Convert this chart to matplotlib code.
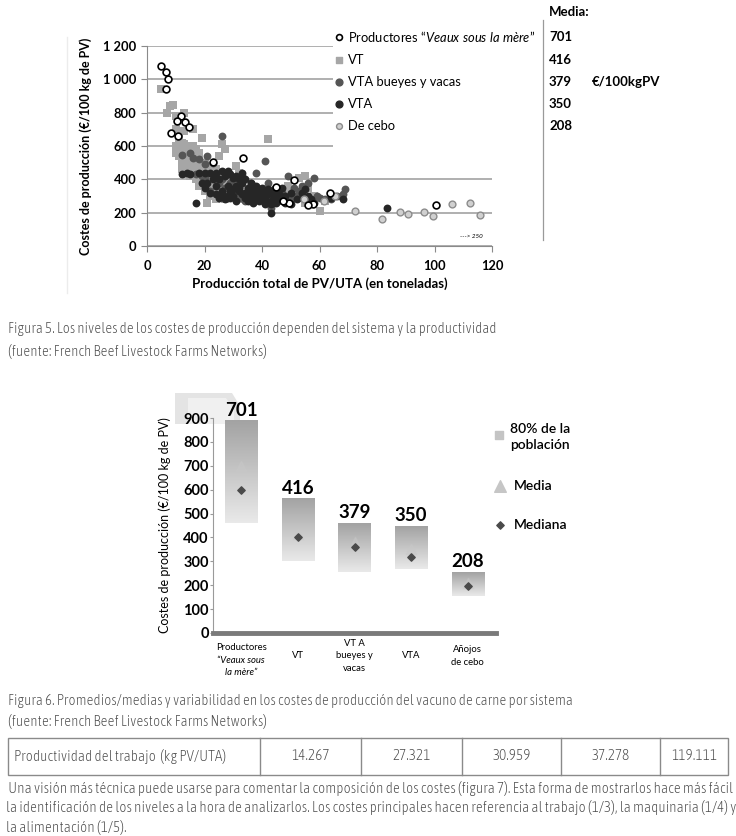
import matplotlib
matplotlib.use("Agg")
import matplotlib.pyplot as plt
import numpy as np
from matplotlib import font_manager
from matplotlib.font_manager import FontProperties
from matplotlib.colors import LinearSegmentedColormap
from matplotlib.patches import Rectangle, Polygon
from matplotlib.ticker import FuncFormatter

# ---------------- data: figure 5 (scatter) ----------------
prod_x = [4.9, 6.5, 7.2, 6.6, 11.8, 10.3, 13.2, 14.7, 8.2, 10.7, 33.3, 23.1,
          51.2, 49.5, 63.7, 57.9, 47.4, 56.1, 45.0, 100.4]
prod_y = [1080, 1042, 1000, 944, 780, 750, 746, 712, 680, 658, 530, 502,
          396, 256, 316, 252, 270, 246, 356, 248]

vt_x = [5, 8, 9, 7, 10, 10, 13, 11, 13, 16, 19, 26, 27, 42, 25, 10, 11, 12, 13, 14,
        15, 16, 12, 13, 14, 15, 16, 17, 18, 11, 12, 19, 20, 21, 22, 23, 24, 25, 26, 21,
        24, 27, 28, 29, 30, 31, 32, 33, 34, 36, 38, 40, 44, 46, 48, 50, 53, 55, 56, 58,
        60, 62, 18, 20, 22, 24, 26, 17, 15, 19, 23, 28, 35, 45, 47, 52, 49, 55,
        10, 11, 12, 13, 14, 15, 16, 17, 18, 19, 20, 21, 22, 23, 24, 25, 26, 27, 28, 29,
        30, 31, 32, 33, 34, 12, 13, 14, 15, 16, 17, 18, 19, 20, 21, 22, 23, 24, 25, 26,
        27, 29, 30, 31, 35, 37, 39, 41, 43, 46, 48, 50, 53, 14, 16, 18, 20, 22, 13]
vt_y = [940, 840, 845, 800, 700, 780, 800, 650, 690, 700, 650, 610, 580, 640, 540, 600, 580, 620, 560, 600,
        580, 540, 500, 470, 520, 480, 450, 400, 360, 540, 460, 430, 400, 420, 380, 360, 340, 320, 300, 260,
        280, 280, 420, 400, 380, 480, 440, 360, 330, 300, 290, 270, 260, 300, 330, 300, 410, 420, 350, 300,
        210, 270, 560, 500, 470, 460, 440, 520, 420, 390, 300, 310, 280, 330, 280, 290, 360, 260,
        560, 600, 590, 610, 570, 550, 600, 580, 500, 480, 460, 450, 420, 430, 400, 380, 370, 360, 340, 320,
        310, 300, 290, 280, 300, 540, 520, 500, 500, 480, 460, 430, 410, 380, 360, 350, 340, 330, 350, 360,
        320, 350, 360, 330, 310, 320, 290, 300, 290, 270, 280, 270, 300, 460, 420, 400, 330, 300, 430]

vtab_x = [12, 15, 18, 20, 21, 23, 26, 28, 30, 33, 36, 38, 41, 42, 44, 47, 49, 51, 54, 56,
          58, 66, 68, 69, 25, 27, 31, 35, 39, 45, 57, 64, 22, 19, 34, 43, 53, 60,
          24, 26, 29, 32, 37, 40, 43, 46, 48, 50, 52, 55, 59, 62, 20, 17, 16, 27, 30, 33]
vtab_y = [545, 560, 520, 490, 540, 500, 660, 440, 400, 420, 380, 440, 510, 380, 340, 320, 420, 350, 360, 380,
          410, 300, 310, 340, 380, 350, 300, 330, 300, 280, 260, 280, 330, 420, 270, 230, 330, 290,
          420, 400, 380, 370, 350, 320, 310, 340, 290, 280, 300, 290, 300, 280, 410, 430, 530, 300, 330, 290]

vta_x = [12, 14, 15, 17, 18, 19, 20, 22, 24, 26, 28, 30, 32, 20, 22, 24, 25, 27, 28, 29,
         30, 31, 32, 33, 34, 35, 36, 37, 38, 39, 40, 41, 42, 43, 43, 44, 45, 46, 48, 50,
         52, 54, 56, 58, 64, 68, 83.6, 37, 35, 40, 26, 23, 21, 47, 33, 29, 31,
         25, 27, 29, 31, 33, 34, 36, 38, 40, 42, 44, 46, 38, 36, 34, 32, 30, 28, 26, 24,
         41, 43, 45, 39, 37, 35, 44, 48, 50, 55, 57]
vta_y = [430, 440, 430, 260, 440, 380, 440, 440, 440, 450, 450, 410, 400, 350, 320, 310, 290, 280, 360, 330,
         340, 360, 330, 310, 290, 350, 320, 300, 280, 340, 300, 280, 310, 270, 200, 300, 320, 280, 260, 250,
         280, 320, 300, 260, 290, 280, 226, 260, 270, 350, 330, 400, 380, 350, 380, 290, 270,
         400, 420, 430, 420, 440, 400, 380, 360, 330, 340, 330, 310, 310, 290, 320, 350, 300, 300, 310, 360,
         250, 250, 260, 270, 340, 300, 290, 300, 320, 340, 280]

cebo_x = [72.2, 81.6, 88.0, 90.9, 96.5, 99.6, 106.0, 112.3, 115.8, 61.6, 54.5, 65.5]
cebo_y = [210, 164, 202, 194, 206, 182, 250, 260, 186, 272, 280, 300]

series_labels = ["VT", "VTA bueyes y vacas", "VTA", "De cebo"]
series_means = [701, 416, 379, 350, 208]

# ---------------- data: figure 6 (80% ranges) ----------------
sys_labels = ["", "VT", "VT A\nbueyes y\nvacas", "VTA", "Añojos\nde cebo"]
p10 = [460, 301, 255, 268, 155]
p90 = [887, 561, 460, 448, 255]
medians = [600, 400, 360, 320, 195]
means = [701, 416, 379, 350, 208]

# ---------------- data: table ----------------
table_head = "Productividad del trabajo  (kg PV/UTA)"
table_vals = ["14.267", "27.321", "30.959", "37.278", "119.111"]

# ---------------- fonts ----------------
cands = []
for f in font_manager.fontManager.ttflist:
    fn = f.fname.lower()
    if ("condensed" in fn or "narrow" in fn) and f.style == "normal" \
            and "bold" not in fn and "italic" not in fn and "semi" not in fn:
        cands.append(f.fname)
cands.sort(key=lambda p: (0 if "light" in p.lower() else 1, 0 if "dejavu" in p.lower() else 1))
cap_fp = FontProperties(fname=cands[0]) if cands else FontProperties(family="DejaVu Sans")

plt.rcParams["font.family"] = ["Lato", "DejaVu Sans"]
plt.rcParams["mathtext.fontset"] = "custom"
plt.rcParams["mathtext.it"] = "Lato:italic"
plt.rcParams["mathtext.rm"] = "Lato"
cap_color = "#4a4a4a"

W, H = 736, 836
fig = plt.figure(figsize=(W / 100, H / 100), dpi=100)
fig.patch.set_facecolor("white")


def box(l, t, r, b):
    return [l / W, 1 - b / H, (r - l) / W, (b - t) / H]


# background layer (pixel coords)
bg = fig.add_axes([0, 0, 1, 1], zorder=-5)
bg.set_xlim(0, W)
bg.set_ylim(H, 0)
bg.axis("off")
bg.plot([67, 67], [37, 293], color="#ececec", lw=1)
bg.add_patch(Polygon([(175, 393), (232, 393), (240, 406), (240, 424), (175, 424)],
                     closed=True, facecolor="#e4e4e4", edgecolor="none"))
bg.add_patch(Polygon([(188, 398), (226, 398), (234, 410), (234, 424), (188, 424)],
                     closed=True, facecolor="#f0f0f0", edgecolor="none"))

# ===== Figure 5 : scatter =====
ax1 = fig.add_axes(box(147, 46, 492, 246))
ax1.patch.set_alpha(0)
ax1.scatter(vt_x, vt_y, marker="s", s=30, color="#a6a6a6", linewidths=0, zorder=3)
ax1.scatter(vtab_x, vtab_y, marker="o", s=32, color="#555555", linewidths=0, zorder=4)
ax1.scatter(vta_x, vta_y, marker="o", s=32, color="#262626", linewidths=0, zorder=5)
ax1.scatter(cebo_x, cebo_y, marker="o", s=24, facecolor="#d0d0d0", edgecolor="#8c8c8c",
            linewidths=1.0, zorder=6)
ax1.scatter(prod_x, prod_y, marker="o", s=24, facecolor="white", edgecolor="black",
            linewidths=1.2, zorder=7)
ax1.set_xlim(0, 120)
ax1.set_ylim(0, 1200)
ax1.set_xticks(np.arange(0, 121, 20))
ax1.set_yticks(np.arange(0, 1201, 200))
ax1.yaxis.set_major_formatter(FuncFormatter(lambda v, p: f"{int(v):,}".replace(",", " ")))
ax1.grid(axis="y", color="#9a9a9a", linewidth=1.1, zorder=0)
ax1.set_axisbelow(True)
for s in ["top", "right"]:
    ax1.spines[s].set_visible(False)
for s in ["left", "bottom"]:
    ax1.spines[s].set_color("#8a8a8a")
ax1.tick_params(axis="both", colors="#8a8a8a", length=4, labelsize=9.3, labelcolor="black")
ax1.tick_params(axis="x", pad=6)
for lab in ax1.get_xticklabels() + ax1.get_yticklabels():
    lab.set_fontweight("bold")
ax1.set_xlabel("Producción total de PV/UTA (en toneladas)", fontsize=9.5,
               fontweight="bold", labelpad=4)
ax1.set_ylabel("Costes de producción (€/100 kg de PV)", fontsize=9, fontweight="bold",
               labelpad=8)
ax1.text(0.94, 0.045, "---> 250", transform=ax1.transAxes, fontsize=4.5, style="italic",
         ha="center", va="center")

# ===== Figure 6 : floating 80% bars =====
ax2 = fig.add_axes(box(213, 418, 496, 633))
ax2.patch.set_alpha(0)
xs = np.arange(len(p10))
bw = 0.57
cmap = LinearSegmentedColormap.from_list("gr", ["#e9e9e9", "#a3a3a3"])
grad = np.linspace(0, 1, 64).reshape(-1, 1)
for i in xs:
    ax2.imshow(grad, extent=(i - bw / 2, i + bw / 2, p10[i], p90[i]), origin="lower",
               aspect="auto", cmap=cmap, zorder=2)
    ax2.text(i, p90[i] + 8, str(means[i]), ha="center", va="bottom", fontsize=13.5,
             fontweight="bold", zorder=5)
ax2.scatter(xs, means, marker="^", s=55, color="#c8c8c8", alpha=0.45, zorder=3)
ax2.scatter(xs, medians, marker="D", s=14, color="#4a4a4a", zorder=4)
ax2.set_xlim(-0.5, 4.5)
ax2.set_ylim(0, 900)
ax2.set_yticks(np.arange(0, 901, 100))
ax2.set_xticks(xs)
ax2.set_xticklabels([])
for s in ["top", "right"]:
    ax2.spines[s].set_visible(False)
ax2.spines["left"].set_color("#9a9a9a")
ax2.spines["bottom"].set_color("#7a7a7a")
ax2.spines["bottom"].set_linewidth(3.5)
ax2.tick_params(axis="y", length=2, colors="#9a9a9a", labelcolor="black", labelsize=10.5,
                pad=1)
ax2.tick_params(axis="x", length=0)
for lab in ax2.get_yticklabels():
    lab.set_fontweight("bold")
ax2.set_ylabel("Costes de producción (€/100 kg de PV)", fontsize=9, labelpad=9)
for i, lab in zip(xs, sys_labels):
    ax2.text(i, -96, lab, ha="center", va="center", fontsize=6.8, linespacing=1.45)
ax2.text(0, -59, "Productores", ha="center", va="center", fontsize=6.8)
ax2.text(0, -142, "“Veaux sous\nla mère”", ha="center", va="center", fontsize=6.8,
         style="italic", linespacing=1.45)

# ===== overlay in pixel coords =====
ov = fig.add_axes([0, 0, 1, 1], zorder=10)
ov.set_xlim(0, W)
ov.set_ylim(H, 0)
ov.axis("off")
ov.patch.set_alpha(0)

# legend of figure 5 (white block over the grid)
ov.add_patch(Rectangle((333, 24), 207, 130, facecolor="white", edgecolor="none"))
leg_y = [37, 60, 82, 104, 126]
ov.scatter([339], [leg_y[0]], marker="o", s=18, facecolor="white", edgecolor="black", lw=1.2)
ov.scatter([339], [leg_y[1]], marker="s", s=20, color="#a6a6a6")
ov.scatter([339], [leg_y[2]], marker="o", s=24, color="#555555")
ov.scatter([339], [leg_y[3]], marker="o", s=24, color="#262626")
ov.scatter([339], [leg_y[4]], marker="o", s=18, facecolor="#d0d0d0", edgecolor="#8c8c8c", lw=1)
ov.text(348, leg_y[0], "Productores “$\\mathit{Veaux\\ sous\\ la\\ mère}$”", fontsize=9.3,
        va="center")
for yy, lab in zip(leg_y[1:], series_labels):
    ov.text(348, yy, lab, fontsize=9.3, va="center")

# means column
ov.plot([543, 543], [20, 240], color="#9a9a9a", lw=0.9)
ov.text(549, 12, "Media:", fontsize=9.5, fontweight="bold", va="center")
for yy, m in zip(leg_y, series_means):
    ov.text(549, yy, str(m), fontsize=9.5, fontweight="bold", va="center")
ov.text(592, leg_y[2], "€/100kgPV", fontsize=9.5, fontweight="bold", va="center")

# legend of figure 6
ov.scatter([499], [435], marker="s", s=26, color="#c4c4c4")
ov.text(510, 437, "80% de la\npoblación", fontsize=10, fontweight="semibold", va="center",
        linespacing=1.35)
ov.scatter([500], [486], marker="^", s=70, color="#c6c6c6")
ov.text(514, 486, "Media", fontsize=10, fontweight="semibold", va="center")
ov.scatter([500], [525], marker="D", s=14, color="#4a4a4a")
ov.text(514, 525, "Mediana", fontsize=10, fontweight="semibold", va="center")

# captions / table / body text in the condensed face, sized to the reference widths
renderer = fig.canvas.get_renderer()


def fitted_size(s, width, base=10.0):
    t = ov.text(0, 0, s, fontproperties=cap_fp, fontsize=base)
    w = t.get_window_extent(renderer).width
    t.remove()
    return base * width / w


body = [" Una visión más técnica puede usarse para comentar la composición de los costes (figura 7). Esta forma de mostrarlos hace más fácil",
        "la identificación de los niveles a la hora de analizarlos. Los costes principales hacen referencia al trabajo (1/3), la maquinaria (1/4) y",
        "la alimentación (1/5)."]
cap5 = "Figura 5. Los niveles de los costes de producción dependen del sistema y la productividad"
cap6 = "Figura 6. Promedios/medias y variabilidad en los costes de producción del vacuno de carne por sistema"
fuente = "(fuente: French Beef Livestock Farms Networks)"

sz_body = fitted_size(body[0], 722)
sz_cap = fitted_size(cap5, 485)


def ctext(x, y, s, size, **kw):
    ov.text(x, y, s, fontproperties=cap_fp, fontsize=size, color=cap_color, va="center", **kw)


ctext(8, 329, cap5, sz_cap)
ctext(8, 351, fuente, sz_cap)
ctext(8, 701, cap6, sz_cap)
ctext(8, 721, fuente, sz_cap)

col_edges = [8, 260, 361, 462, 561, 660, 728]
t_top, t_bot = 738, 775
ov.add_patch(Rectangle((col_edges[0], t_top), col_edges[-1] - col_edges[0], t_bot - t_top,
                       facecolor="none", edgecolor="#8a8a8a", lw=1))
for xe in col_edges[1:-1]:
    ov.plot([xe, xe], [t_top, t_bot], color="#8a8a8a", lw=1)
tmid = (t_top + t_bot) / 2
ctext(14, tmid, table_head, sz_body)
for j, v in enumerate(table_vals):
    ctext((col_edges[j + 1] + col_edges[j + 2]) / 2, tmid, v, sz_body, ha="center")

for k, line in enumerate(body):
    ctext(6, 788 + k * 19.5, line, sz_body)

fig.savefig("out.png", dpi=100, facecolor="white")
